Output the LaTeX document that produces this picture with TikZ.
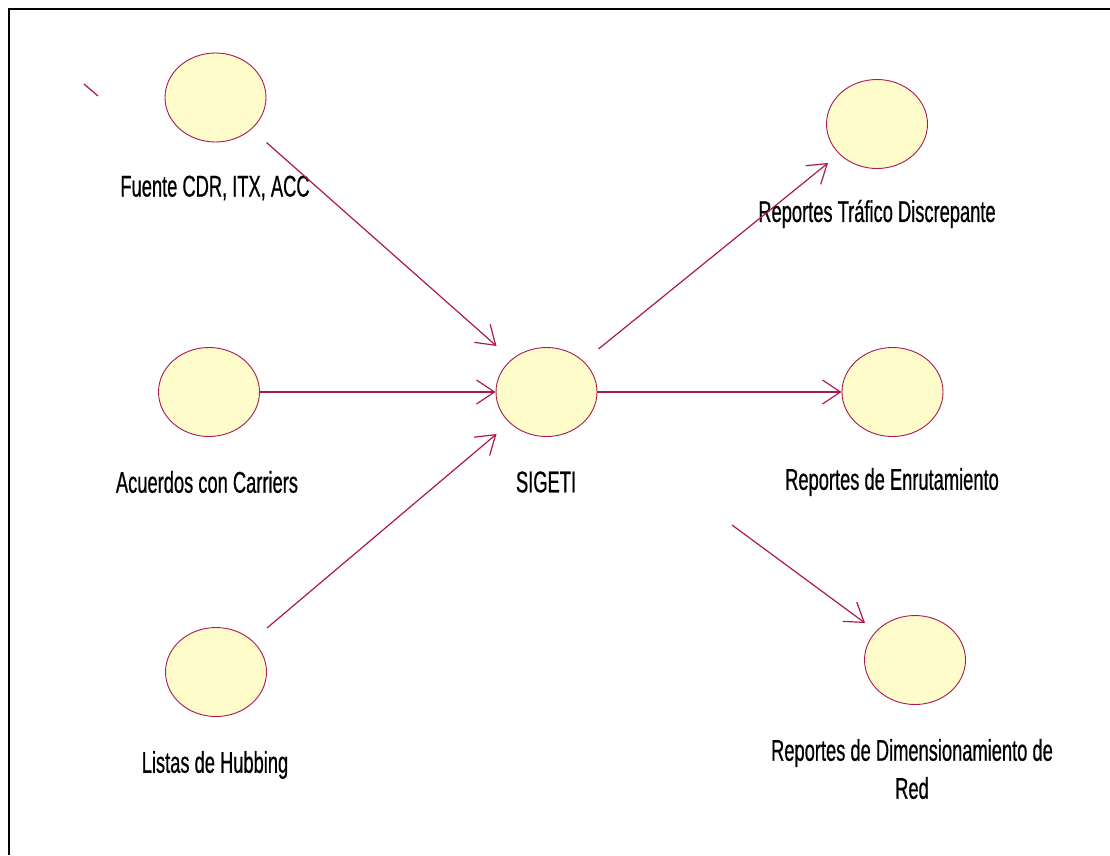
\documentclass[tikz,border=0pt]{standalone}
\usepackage{fontspec}
\setmainfont[FakeStretch=0.61,FakeBold=0.6]{Liberation Sans}
\usetikzlibrary{arrows.meta,calc,shapes.geometric}
\definecolor{ucfill}{RGB}{255,252,204}
\definecolor{ucline}{RGB}{172,24,80}
\tikzset{
  usecase/.style={ellipse, draw=ucline, fill=ucfill, line width=0.9pt,
    minimum width=101pt, minimum height=89pt, inner sep=0pt},
  uclabel/.style={font=\fontsize{30}{38}\selectfont, align=center, inner sep=0pt},
  flow/.style={draw=ucline, line width=1.2pt,
    -{Straight Barb[length=18pt,width=24pt,line width=1.2pt]}},
  plain/.style={draw=ucline, line width=1.2pt},
  frame/.style={draw=black, line width=2pt}
}
\begin{document}
\begin{tikzpicture}[x=1pt,y=-1pt]
\useasboundingbox (0,0) rectangle (1110,855);
\fill[white] (0,0) rectangle (1110,855);

% outer frame (top and left edges)
\coordinate (fr-bl) at (9,855);
\coordinate (fr-tl) at (9,9);
\coordinate (fr-tr) at (1110,9);
\draw[frame] (fr-bl) -- (fr-tl) -- (fr-tr);

% use cases
\node[usecase] (fuente)   at (215.5,97.5) {};
\node[usecase] (acuerdos) at (209,392)    {};
\node[usecase] (listas)   at (216,672)    {};
\node[usecase] (sigeti)   at (546.5,392)  {};
\node[usecase] (trafico)  at (877,124)    {};
\node[usecase] (enrut)    at (892.5,392)  {};
\node[usecase] (dimen)    at (915,660)    {};

% labels
\node[uclabel] (l-fuente)   at (215,188) {Fuente CDR, ITX, ACC};
\node[uclabel] (l-acuerdos) at (207,482) {Acuerdos con Carriers};
\node[uclabel] (l-listas)   at (215,765) {Listas de Hubbing};
\node[uclabel] (l-sigeti)   at (546,482) {SIGETI};
\node[uclabel] (l-trafico)  at (877,214) {Reportes Tráfico Discrepante};
\node[uclabel] (l-enrut)    at (892,482) {Reportes de Enrutamiento};
\node[uclabel] (l-dimen)    at (912,769) {Reportes de Dimensionamiento de\\Red};

% connector end points
\coordinate (fuente-out)  at ($(fuente.center)+(51,45)$);
\coordinate (sig-in1)     at ($(sigeti.center)+(-50,-46)$);
\coordinate (sig-in3)     at ($(sigeti.center)+(-50,42)$);
\coordinate (listas-out)  at ($(listas.center)+(51,-44)$);
\coordinate (sig-out1)    at ($(sigeti.center)+(52,-43)$);
\coordinate (traf-in)     at ($(trafico.center)+(-49,39)$);
\coordinate (dim-src)     at (732,525);
\coordinate (dim-in)      at ($(dimen.center)+(-50,-37)$);
\coordinate (stray-a)     at (84,84);
\coordinate (stray-b)     at (98,96);

% flows
\draw[flow] (fuente-out) -- (sig-in1);
\draw[flow] (acuerdos.east) -- (sigeti.west);
\draw[flow] (listas-out) -- (sig-in3);
\draw[flow] (sig-out1) -- (traf-in);
\draw[flow] (sigeti.east) -- (enrut.west);
\draw[flow] (dim-src) -- (dim-in);
\draw[plain] (stray-a) -- (stray-b);
\end{tikzpicture}
\end{document}
